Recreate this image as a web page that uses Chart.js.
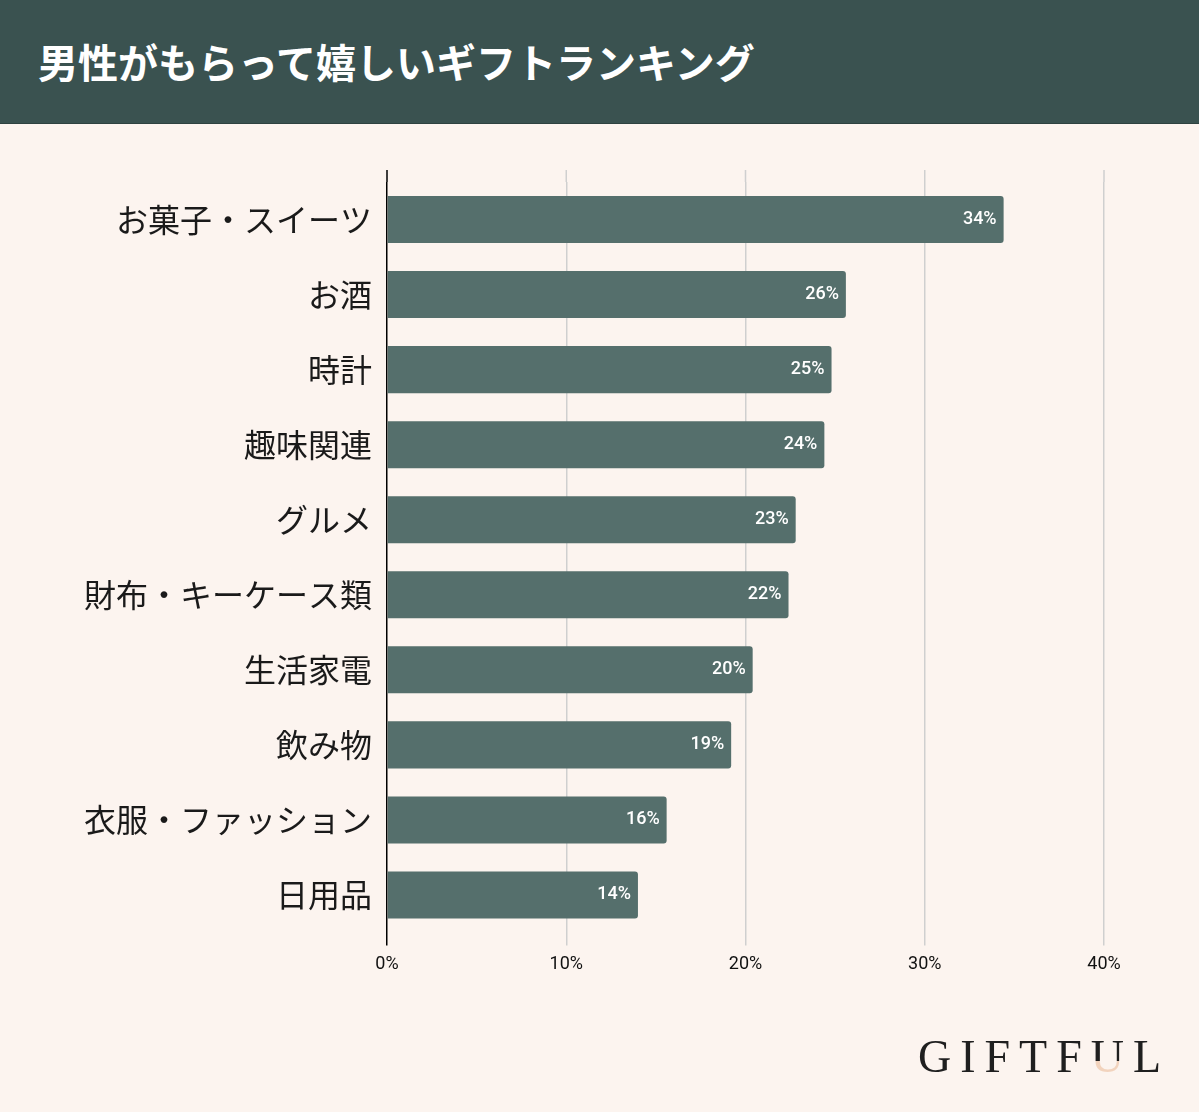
<!DOCTYPE html>
<html>
<head>
<meta charset="utf-8">
<script src="https://cdn.jsdelivr.net/npm/chart.js@4"></script>
<style>
body { margin:0; background:#fcf4ef; width:1199px; height:1112px; overflow:hidden; position:relative; font-family:'Noto Sans CJK JP', sans-serif; }
#head { position:absolute; left:0; top:0; width:1199px; height:123px; background:#3a5250; border-bottom:1px solid #2e4240; }
#head h1 { margin:0; position:absolute; left:38px; top:35px; font-size:40px; line-height:52px; color:#fff; font-weight:700; letter-spacing:0px; }
#wrap { position:absolute; left:0; top:123px; width:1199px; height:989px; }
#logo { position:absolute; left:918px; top:1030px; font-family:'Liberation Serif', serif; font-size:46px; letter-spacing:9px; color:#1f1f1f; font-weight:400; }
#logo .u { background:linear-gradient(to bottom, #1f1f1f 58%, #f2d3bd 58%); -webkit-background-clip:text; background-clip:text; color:transparent; }
</style>
</head>
<body>
<div id="head"><h1>男性がもらって嬉しいギフトランキング</h1></div>
<div id="wrap"><canvas id="myChart"></canvas></div>
<div id="logo">GIFTF<span class="u">U</span>L</div>
<script>
// data
const categories = ['お菓子・スイーツ', 'お酒', '時計', '趣味関連', 'グルメ', '財布・キーケース類', '生活家電', '飲み物', '衣服・ファッション', '日用品'];
const values = [34.4, 25.6, 24.8, 24.4, 22.8, 22.4, 20.4, 19.2, 15.6, 14.0];
const xTicks = [0, 10, 20, 30, 40];

// value labels inside bar ends
const barLabels = {
    id: 'barLabels',
    afterDatasetsDraw(chart) {
        const c = chart.ctx;
        const meta = chart.getDatasetMeta(0);
        c.save();
        c.fillStyle = '#ffffff';
        c.font = '500 18px Roboto, "Noto Sans", sans-serif';
        c.textAlign = 'right';
        c.textBaseline = 'middle';
        meta.data.forEach((bar, i) => {
            c.fillText(Math.round(values[i]) + '%', bar.x - 7, bar.y);
        });
        c.restore();
    }
};

// grid lines poke out a bit above the plot
const gridTop = {
    id: 'gridTop',
    beforeDatasetsDraw(chart) {
        const c = chart.ctx;
        const x = chart.scales.x;
        const top = chart.chartArea.top;
        c.save();
        xTicks.forEach(v => {
            const px = x.getPixelForValue(v);
            c.strokeStyle = v === 0 ? '#000000' : '#cfcfcf';
            c.lineWidth = 1.5;
            c.beginPath();
            c.moveTo(px, top - 12);
            c.lineTo(px, top);
            c.stroke();
        });
        c.restore();
    }
};

const ctx = document.getElementById('myChart').getContext('2d');
const myChart = new Chart(ctx, {
    type: 'bar',
    data: {
        labels: categories,
        datasets: [{
            data: values,
            backgroundColor: '#556f6c',
            borderRadius: 3,
            borderSkipped: 'start',
            barPercentage: 0.627,
            categoryPercentage: 1
        }]
    },
    options: {
        indexAxis: 'y',
        responsive: true,
        maintainAspectRatio: false,
        animation: false,
        layout: { padding: { top: 59, right: 95, left: 0, bottom: 0 } },
        plugins: {
            legend: { display: false },
            tooltip: { enabled: false }
        },
        scales: {
            x: {
                min: 0,
                max: 40,
                afterBuildTicks: (s) => { s.ticks = xTicks.map(v => ({ value: v })); },
                afterFit: (s) => { s.height = 179.5; },
                border: { display: false },
                grid: {
                    color: (c) => c.tick && c.tick.value === 0 ? '#000000' : '#cfcfcf',
                    lineWidth: 1.5,
                    tickLength: 13,
                    drawTicks: true
                },
                ticks: {
                    padding: 8,
                    color: '#111111',
                    font: { family: 'Roboto, "Noto Sans", sans-serif', size: 18 },
                    callback: (v) => v + '%'
                }
            },
            y: {
                afterFit: (s) => { s.width = 387; },
                border: { display: false },
                grid: { display: false },
                ticks: {
                    padding: 7,
                    color: '#1a1a1a',
                    font: { family: '"Noto Sans CJK JP", sans-serif', size: 32 }
                }
            }
        }
    },
    plugins: [barLabels, gridTop]
});
</script>
</body>
</html>
